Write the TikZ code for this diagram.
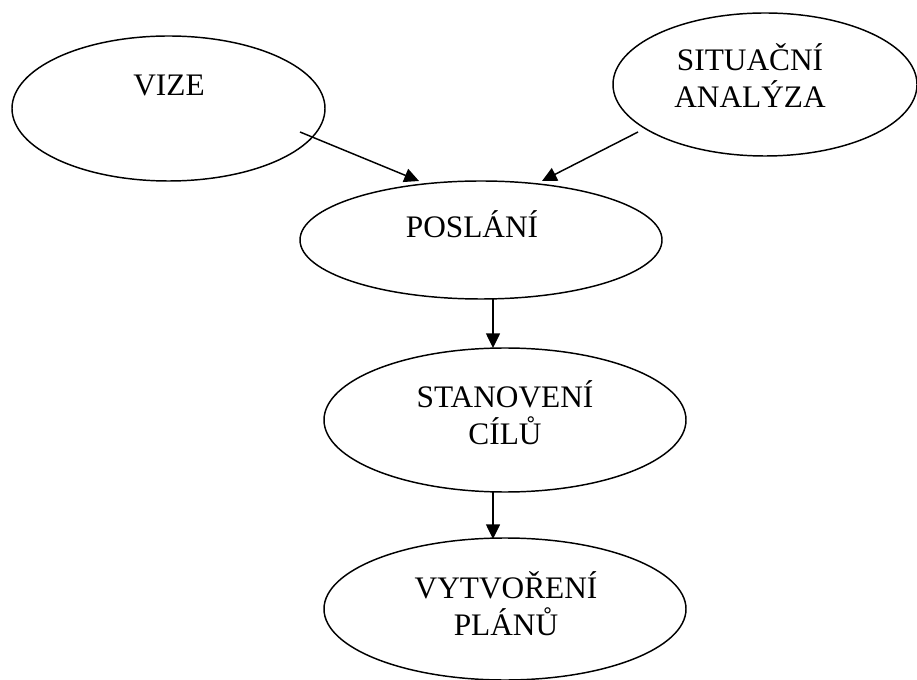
\documentclass[tikz,border=0pt]{standalone}
\usepackage{fontspec}
\setmainfont{Liberation Serif}
\usetikzlibrary{shapes.geometric,arrows.meta}

\begin{document}
\begin{tikzpicture}[x = 0.75pt, y = -0.75pt, line width = 1.1pt,
                        oval/.style = {ellipse, draw, inner sep = 0pt},
                        word/.style = {align = center, inner sep = 0pt,
                                       font = \fontsize{23.5}{27.75}\selectfont},
                        arr/.style = {-{Triangle[length = 11pt, width = 10.5pt]}}]
      \useasboundingbox (0, 0) rectangle (917, 680);
      \node [oval, minimum width = 234.75pt, minimum height = 108.75pt] (e1) at (168.5, 108.5){};
      \node [word] (t1) at (169, 85) {VIZE};
      \node [oval, minimum width = 228pt, minimum height = 107.25pt] (e2) at (765, 84.5){};
      \node [word] (t2) at (750, 76) {SITUAČNÍ\\ANALÝZA};
      \node [oval, minimum width = 271.5pt, minimum height = 88.5pt] (e3) at (481, 240){};
      \node [word] (t3) at (472, 224) {POSLÁNÍ};
      \node [oval, minimum width = 271.5pt, minimum height = 108pt] (e4) at (505, 420){};
      \node [word] (t4) at (505, 413) {STANOVENÍ\\CÍLŮ};
      \node [oval, minimum width = 271.5pt, minimum height = 106.5pt] (e5) at (505, 609){};
      \node [word] (t5) at (506, 604) {VYTVOŘENÍ\\PLÁNŮ};
      \coordinate (c1) at (300, 132);   \coordinate (c2) at (419, 181);
      \coordinate (c3) at (638, 132);   \coordinate (c4) at (542, 181);
      \coordinate (c5) at (493, 299);   \coordinate (c6) at (493, 348);
      \coordinate (c7) at (493, 492);   \coordinate (c8) at (493, 539);
      \draw [arr] (c1) -- (c2);
      \draw [arr] (c3) -- (c4);
      \draw [arr] (c5) -- (c6);
      \draw [arr] (c7) -- (c8);
    \end{tikzpicture}
\end{document}
